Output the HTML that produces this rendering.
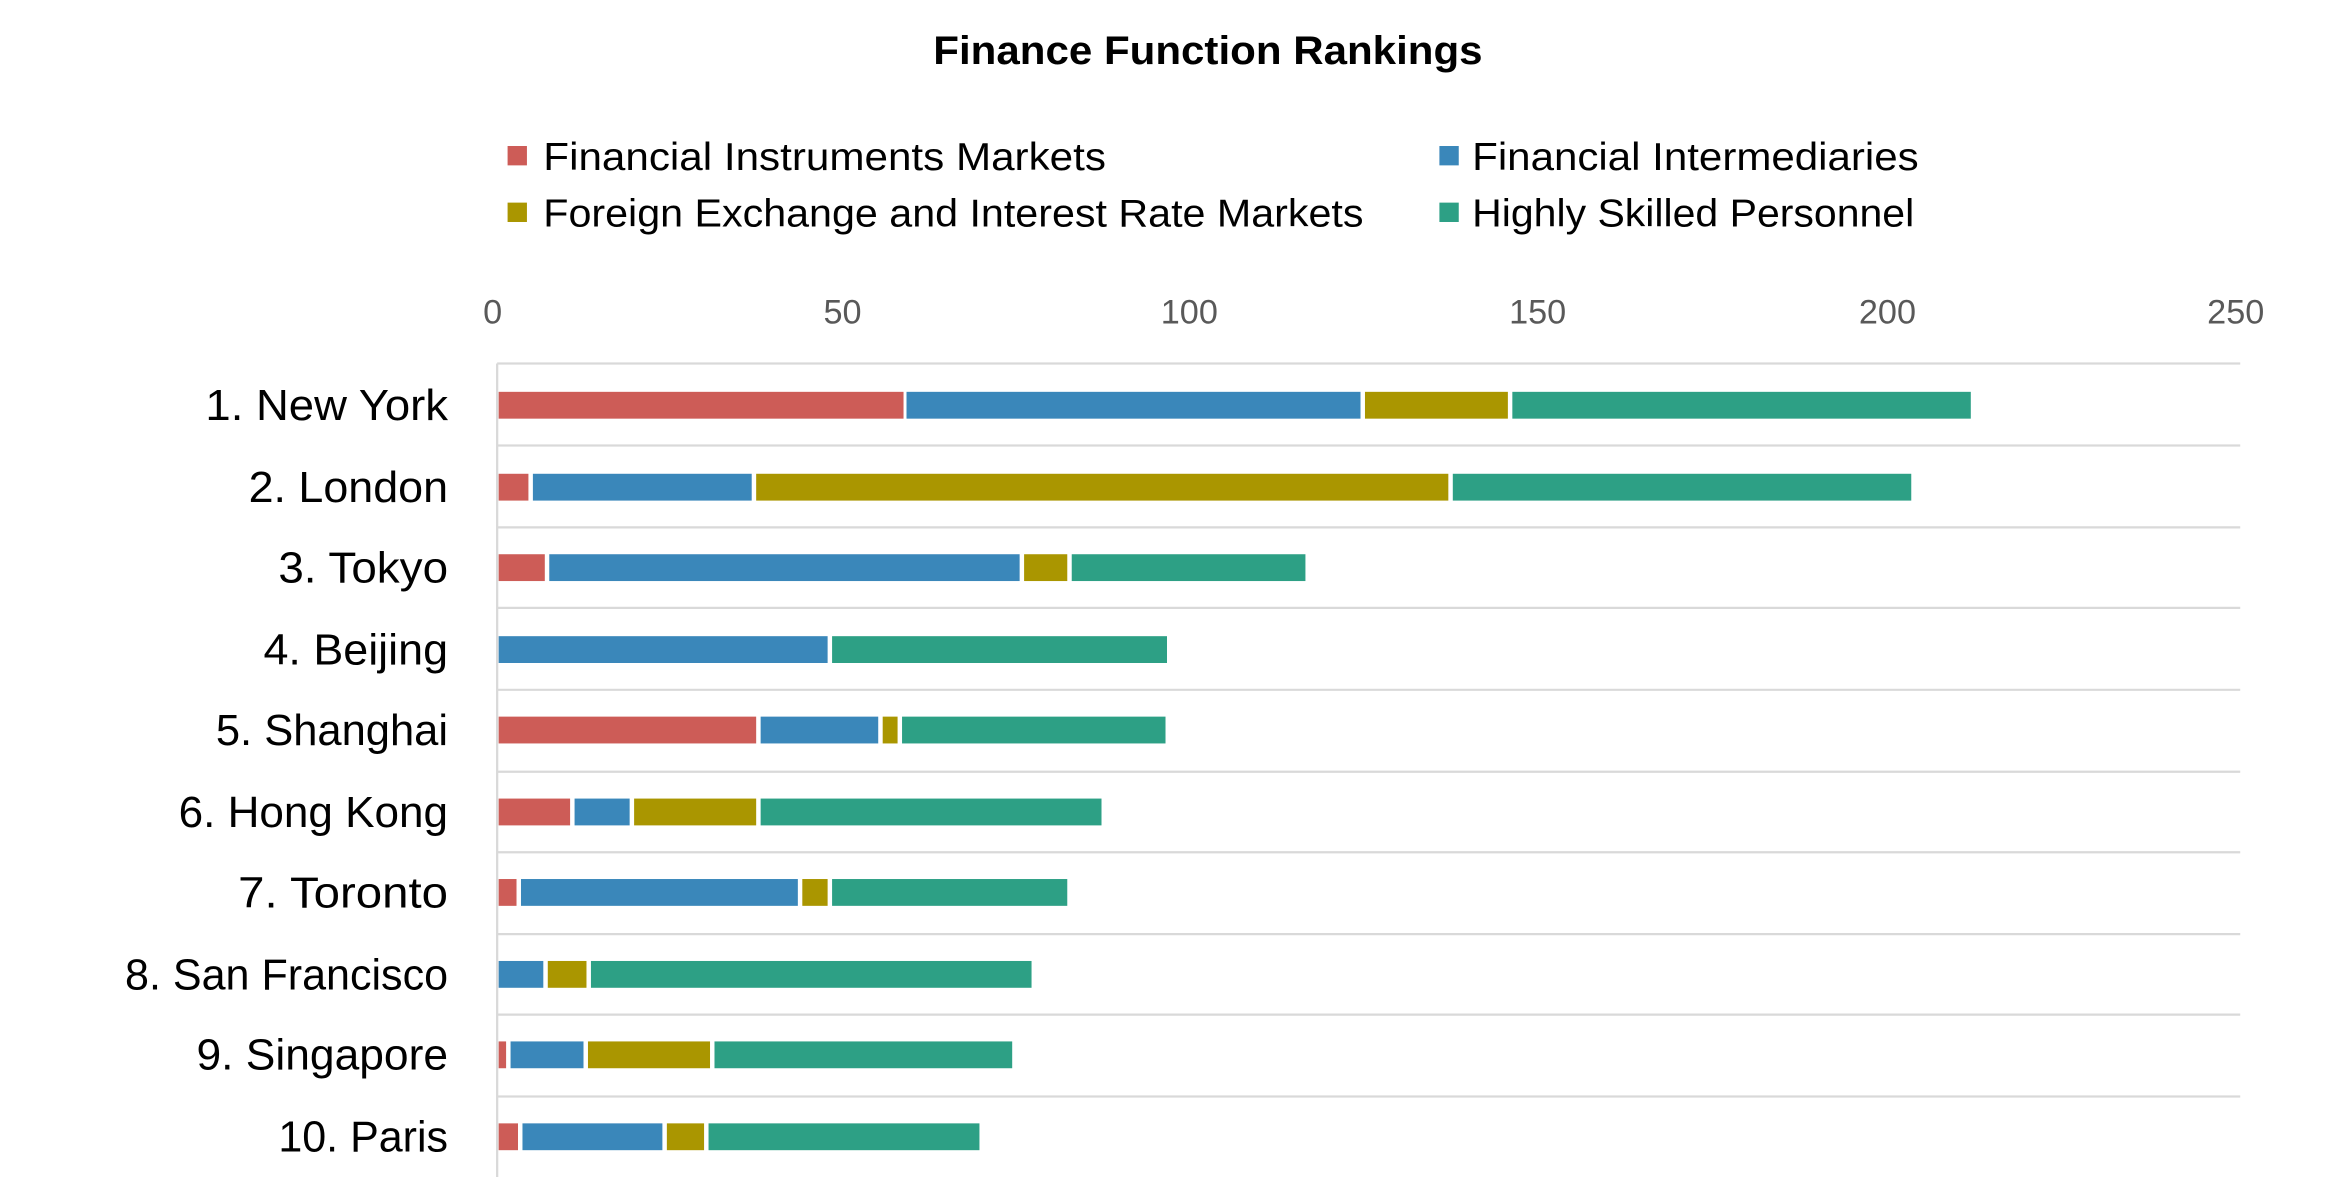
<!DOCTYPE html>
<html><head><meta charset="utf-8"><style>
html,body{margin:0;padding:0;background:#fff;}
svg{display:block;}
text{font-family:"Liberation Sans",sans-serif;}
</style></head><body>
<svg width="2334" height="1177" viewBox="0 0 1568 790" preserveAspectRatio="none" xmlns="http://www.w3.org/2000/svg">
<rect width="1568" height="790" fill="#fff"/>
<text x="627" y="43" font-size="27" font-weight="bold" fill="#000" textLength="369" lengthAdjust="spacingAndGlyphs">Finance Function Rankings</text>
<g font-size="26" fill="#000">
<rect x="341" y="98" width="13" height="13" fill="#CD5C57"/><text x="365" y="114" textLength="378" lengthAdjust="spacingAndGlyphs">Financial Instruments Markets</text>
<rect x="967" y="98" width="13" height="13" fill="#3A87BA"/><text x="989" y="114" textLength="300" lengthAdjust="spacingAndGlyphs">Financial Intermediaries</text>
<rect x="341" y="136" width="13" height="13" fill="#AA9600"/><text x="365" y="152" textLength="551" lengthAdjust="spacingAndGlyphs">Foreign Exchange and Interest Rate Markets</text>
<rect x="967" y="136" width="13" height="13" fill="#2DA085"/><text x="989" y="152" textLength="297" lengthAdjust="spacingAndGlyphs">Highly Skilled Personnel</text>
</g>
<g font-size="23" fill="#595959" text-anchor="middle">
<text x="331" y="217">0</text><text x="566" y="217">50</text><text x="799" y="217">100</text><text x="1033" y="217">150</text><text x="1268" y="217">200</text><text x="1502" y="217">250</text>
</g>
<g stroke="#d9d9d9" stroke-width="1.5">
<line x1="334" y1="244" x2="1505" y2="244"/><line x1="334" y1="299" x2="1505" y2="299"/><line x1="334" y1="354" x2="1505" y2="354"/><line x1="334" y1="408" x2="1505" y2="408"/><line x1="334" y1="463" x2="1505" y2="463"/><line x1="334" y1="518" x2="1505" y2="518"/><line x1="334" y1="572" x2="1505" y2="572"/><line x1="334" y1="627" x2="1505" y2="627"/><line x1="334" y1="681" x2="1505" y2="681"/><line x1="334" y1="736" x2="1505" y2="736"/>
<line x1="334" y1="244" x2="334" y2="790"/>
</g>
<g font-size="29" fill="#000" lengthAdjust="spacingAndGlyphs">
<text x="138" y="282" textLength="163" lengthAdjust="spacingAndGlyphs">1. New York</text>
<text x="167" y="337" textLength="134" lengthAdjust="spacingAndGlyphs">2. London</text>
<text x="187" y="391" textLength="114" lengthAdjust="spacingAndGlyphs">3. Tokyo</text>
<text x="177" y="446" textLength="124" lengthAdjust="spacingAndGlyphs">4. Beijing</text>
<text x="145" y="500" textLength="156" lengthAdjust="spacingAndGlyphs">5. Shanghai</text>
<text x="120" y="555" textLength="181" lengthAdjust="spacingAndGlyphs">6. Hong Kong</text>
<text x="160" y="609" textLength="141" lengthAdjust="spacingAndGlyphs">7. Toronto</text>
<text x="84" y="664" textLength="217" lengthAdjust="spacingAndGlyphs">8. San Francisco</text>
<text x="132" y="718" textLength="169" lengthAdjust="spacingAndGlyphs">9. Singapore</text>
<text x="187" y="773" textLength="114" lengthAdjust="spacingAndGlyphs">10. Paris</text>
</g>
<g>
<rect x="335" y="263" width="272" height="18" fill="#CD5C57"/><rect x="609" y="263" width="305" height="18" fill="#3A87BA"/><rect x="917" y="263" width="96" height="18" fill="#AA9600"/><rect x="1016" y="263" width="308" height="18" fill="#2DA085"/>
<rect x="335" y="318" width="20" height="18" fill="#CD5C57"/><rect x="358" y="318" width="147" height="18" fill="#3A87BA"/><rect x="508" y="318" width="465" height="18" fill="#AA9600"/><rect x="976" y="318" width="308" height="18" fill="#2DA085"/>
<rect x="335" y="372" width="31" height="18" fill="#CD5C57"/><rect x="369" y="372" width="316" height="18" fill="#3A87BA"/><rect x="688" y="372" width="29" height="18" fill="#AA9600"/><rect x="720" y="372" width="157" height="18" fill="#2DA085"/>
<rect x="335" y="427" width="221" height="18" fill="#3A87BA"/><rect x="559" y="427" width="225" height="18" fill="#2DA085"/>
<rect x="335" y="481" width="173" height="18" fill="#CD5C57"/><rect x="511" y="481" width="79" height="18" fill="#3A87BA"/><rect x="593" y="481" width="10" height="18" fill="#AA9600"/><rect x="606" y="481" width="177" height="18" fill="#2DA085"/>
<rect x="335" y="536" width="48" height="18" fill="#CD5C57"/><rect x="386" y="536" width="37" height="18" fill="#3A87BA"/><rect x="426" y="536" width="82" height="18" fill="#AA9600"/><rect x="511" y="536" width="229" height="18" fill="#2DA085"/>
<rect x="335" y="590" width="12" height="18" fill="#CD5C57"/><rect x="350" y="590" width="186" height="18" fill="#3A87BA"/><rect x="539" y="590" width="17" height="18" fill="#AA9600"/><rect x="559" y="590" width="158" height="18" fill="#2DA085"/>
<rect x="335" y="645" width="30" height="18" fill="#3A87BA"/><rect x="368" y="645" width="26" height="18" fill="#AA9600"/><rect x="397" y="645" width="296" height="18" fill="#2DA085"/>
<rect x="335" y="699" width="5" height="18" fill="#CD5C57"/><rect x="343" y="699" width="49" height="18" fill="#3A87BA"/><rect x="395" y="699" width="82" height="18" fill="#AA9600"/><rect x="480" y="699" width="200" height="18" fill="#2DA085"/>
<rect x="335" y="754" width="13" height="18" fill="#CD5C57"/><rect x="351" y="754" width="94" height="18" fill="#3A87BA"/><rect x="448" y="754" width="25" height="18" fill="#AA9600"/><rect x="476" y="754" width="182" height="18" fill="#2DA085"/>
</g>
</svg>
</body></html>
